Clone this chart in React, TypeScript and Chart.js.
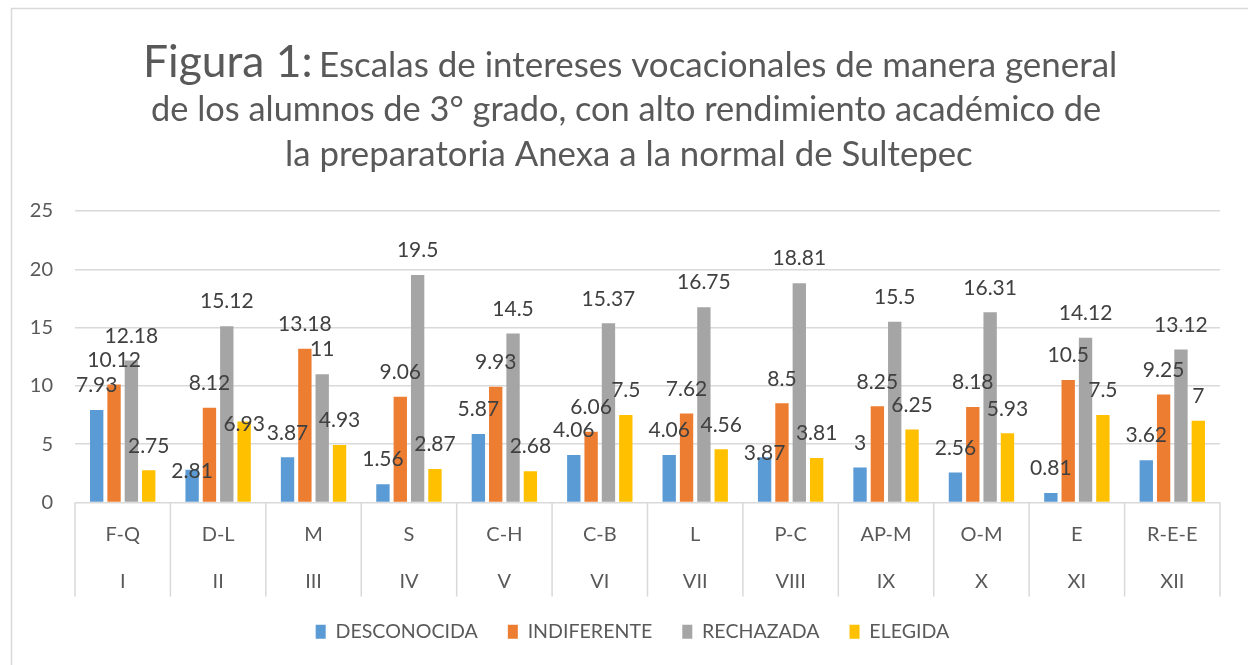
import React, { useEffect, useRef } from "react";
import { Chart, registerables } from "chart.js";

Chart.register(...registerables);

// ---------- data ----------
const categories = ["F-Q", "D-L", "M", "S", "C-H", "C-B", "L", "P-C", "AP-M", "O-M", "E", "R-E-E"];
const romanNumerals = ["I", "II", "III", "IV", "V", "VI", "VII", "VIII", "IX", "X", "XI", "XII"];
const seriesNames = ["DESCONOCIDA", "INDIFERENTE", "RECHAZADA", "ELEGIDA"];
const desconocida = [7.93, 2.81, 3.87, 1.56, 5.87, 4.06, 4.06, 3.87, 3, 2.56, 0.81, 3.62];
const indiferente = [10.12, 8.12, 13.18, 9.06, 9.93, 6.06, 7.62, 8.5, 8.25, 8.18, 10.5, 9.25];
const rechazada = [12.18, 15.12, 11, 19.5, 14.5, 15.37, 16.75, 18.81, 15.5, 16.31, 14.12, 13.12];
const elegida = [2.75, 6.93, 4.93, 2.87, 2.68, 7.5, 4.56, 3.81, 6.25, 5.93, 7.5, 7];
const yMin = 0;
const yMax = 25;
const yStep = 5;

const titleLead = "Figura 1:";
const titleLines = [
  "Escalas de intereses vocacionales de manera general",
  "de los alumnos de 3° grado, con alto rendimiento académico de",
  "la preparatoria Anexa a la normal de Sultepec",
];

// ---------- styles ----------
const seriesColors = ["#5B9BD5", "#ED7D31", "#A5A5A5", "#FFC000"];
const FONT = "Lato, 'Open Sans', sans-serif";
const TEXT = "#595959";
const LABEL = "#404040";
const GRID = "#D9D9D9";
const defaultLift = 24.5;
// labels that sit lower than the default ("datasetIndex:categoryIndex")
const liftOverrides: Record<string, number> = { "0:1": -2, "3:1": -3, "0:7": 4 };
const legendShift = 22.5;

function fitText(
  ctx: CanvasRenderingContext2D,
  text: string,
  left: number,
  right: number,
  baseline: number
) {
  ctx.font = `100px ${FONT}`;
  const m = ctx.measureText(text);
  const ink = m.actualBoundingBoxLeft + m.actualBoundingBoxRight;
  const size = (100 * (right - left)) / ink;
  ctx.font = `${size}px ${FONT}`;
  const m2 = ctx.measureText(text);
  ctx.textAlign = "left";
  ctx.textBaseline = "alphabetic";
  ctx.fillText(text, left + m2.actualBoundingBoxLeft, baseline);
}

const decorPlugin = {
  id: "decor",
  afterLayout(chart: any) {
    const lg = chart.legend;
    if (lg) {
      lg.left += legendShift;
      lg.right += legendShift;
    }
  },
  beforeDraw(chart: any) {
    const ctx = chart.ctx as CanvasRenderingContext2D;
    ctx.save();
    ctx.strokeStyle = GRID;
    ctx.lineWidth = 1.5;
    ctx.beginPath();
    ctx.moveTo(11.5, 665);
    ctx.lineTo(11.5, 8.5);
    ctx.lineTo(1248, 8.5);
    ctx.stroke();

    ctx.fillStyle = TEXT;
    fitText(ctx, titleLead, 147, 310, 77);
    fitText(ctx, titleLines[0], 322, 1115, 77);
    fitText(ctx, titleLines[1], 152, 1100, 121);
    fitText(ctx, titleLines[2], 287, 972, 166);
    ctx.restore();
  },
  afterDraw(chart: any) {
    const ctx = chart.ctx as CanvasRenderingContext2D;
    const xs = chart.scales.x;
    const area = chart.chartArea;
    const n = categories.length;
    const half = (xs.getPixelForValue(1) - xs.getPixelForValue(0)) / 2;
    ctx.save();
    ctx.strokeStyle = GRID;
    ctx.lineWidth = 1.5;
    ctx.beginPath();
    for (let i = 0; i <= n; i++) {
      const x = i < n ? xs.getPixelForValue(i) - half : xs.getPixelForValue(n - 1) + half;
      ctx.moveTo(x, area.bottom);
      ctx.lineTo(x, area.bottom + 94);
    }
    ctx.stroke();

    ctx.fillStyle = LABEL;
    ctx.font = `21px ${FONT}`;
    ctx.textAlign = "center";
    ctx.textBaseline = "middle";
    chart.data.datasets.forEach((ds: any, di: number) => {
      const meta = chart.getDatasetMeta(di);
      meta.data.forEach((el: any, ci: number) => {
        const key = `${di}:${ci}`;
        const lift = key in liftOverrides ? liftOverrides[key] : defaultLift;
        ctx.fillText(String(ds.data[ci]), el.x, el.y - lift);
      });
    });
    ctx.restore();
  },
};

export default function App() {
  const ref = useRef<HTMLCanvasElement | null>(null);

  useEffect(() => {
    if (!ref.current) return;
    const values = [desconocida, indiferente, rechazada, elegida];
    const chart = new Chart(ref.current, {
      type: "bar",
      data: {
        labels: categories.map((c, i) => [c, romanNumerals[i]]),
        datasets: seriesNames.map((name, i) => ({
          label: name,
          data: values[i],
          backgroundColor: seriesColors[i],
          borderWidth: 0,
          categoryPercentage: 0.727,
          barPercentage: 0.77,
        })),
      },
      options: {
        responsive: false,
        animation: false,
        events: [],
        layout: { padding: { top: 211, right: 28, bottom: 13.5, left: 0 } },
        plugins: {
          title: { display: false },
          tooltip: { enabled: false },
          legend: {
            position: "bottom",
            labels: {
              boxWidth: 10,
              boxHeight: 14,
              padding: 30,
              color: TEXT,
              font: { family: FONT, size: 19.6 },
            },
          },
        },
        scales: {
          x: {
            grid: { display: false, drawTicks: false },
            border: { display: false },
            ticks: {
              color: TEXT,
              font: { family: FONT, size: 20, lineHeight: 2.35 },
              padding: 8.5,
              autoSkip: false,
              maxRotation: 0,
            },
            afterFit: (s: any) => {
              s.height = 89.5;
            },
          },
          y: {
            min: yMin,
            max: yMax,
            grid: { color: GRID, lineWidth: 1.5, drawTicks: false },
            border: { display: false },
            ticks: {
              stepSize: yStep,
              color: TEXT,
              font: { family: FONT, size: 20 },
              padding: 22,
            },
            afterFit: (s: any) => {
              s.width = 75;
            },
          },
        },
      },
      plugins: [decorPlugin],
    });
    return () => chart.destroy();
  }, []);

  return (
    <div style={{ position: "absolute", left: 0, top: 0, width: 1248, height: 665, background: "#fff" }}>
      <canvas ref={ref} width={1248} height={665} />
    </div>
  );
}
